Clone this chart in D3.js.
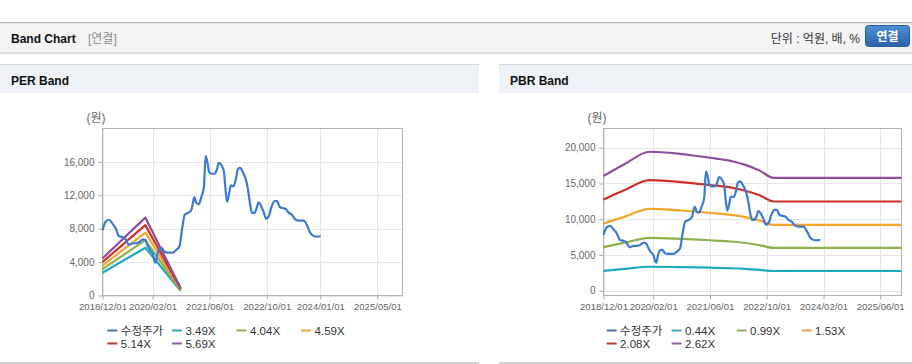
<!DOCTYPE html>
<html>
<head>
<meta charset="utf-8">
<script src="https://cdn.jsdelivr.net/npm/d3@7"></script>
<style>
  body { margin: 0; background: #fff; font-family: Arial, "Liberation Sans", "Noto Sans CJK KR", sans-serif; }
  svg text { font-family: Arial, "Liberation Sans", "Noto Sans CJK KR", sans-serif; }
</style>
</head>
<body>
<script>
var parse = d3.timeParse("%Y/%m/%d");

// 수정주가
var priceDates = ["2018/12/01","2018/12/29","2019/01/27","2019/02/24","2019/03/24","2019/04/21","2019/05/19","2019/06/16",
  "2019/07/14","2019/08/15","2019/09/12","2019/10/10","2019/11/10","2019/12/01","2019/12/22","2020/01/15","2020/02/03",
  "2020/02/18","2020/02/27","2020/03/10","2020/04/01","2020/04/19","2020/05/12","2020/06/10","2020/07/24","2020/08/22",
  "2020/09/18","2020/10/10","2020/11/01","2020/12/01","2020/12/28","2021/01/22","2021/02/08","2021/03/01","2021/03/22",
  "2021/04/13","2021/04/28","2021/05/13","2021/05/28","2021/06/18","2021/07/15","2021/08/01","2021/08/19","2021/09/13",
  "2021/10/01","2021/10/16","2021/10/28","2021/11/15","2021/11/28","2021/12/22","2022/01/10","2022/01/28","2022/02/18",
  "2022/03/10","2022/04/06","2022/04/21","2022/05/13","2022/05/28","2022/06/18","2022/07/10","2022/07/22","2022/08/13",
  "2022/09/07","2022/09/25","2022/10/19","2022/11/10","2022/12/07","2022/12/28","2023/01/19","2023/02/15","2023/03/10",
  "2023/04/07","2023/05/04","2023/06/04","2023/07/01","2023/08/13","2023/09/13","2023/10/10","2023/11/10","2023/12/07",
  "2024/01/04"];
var priceValues = [7800,8880,9070,8600,8040,7100,7000,6730,
  6070,6260,6260,6400,6730,6650,5930,5330,5000,
  4070,3930,4770,5700,5700,5230,5140,5140,5470,
  5930,8040,9670,9900,10280,11780,11070,10930,11780,
  12940,16680,15980,14800,14580,14580,15050,15890,15510,
  14800,12470,11210,12240,13180,13080,13880,15140,15280,
  14800,13880,12940,10840,9900,9900,10600,11170,10750,
  9900,9200,9530,10600,11310,11310,10600,10470,10370,
  9900,9670,9070,8970,8970,8270,7430,7100,7050,
  7100];

// PER band
var perNames = ["3.49X", "4.04X", "4.59X", "5.14X", "5.69X"];
var perDates = ["2018/12/01", "2019/12/01", "2020/09/28"];
var per349 = [2720, 5720, 540];
var per404 = [3150, 6630, 620];
var per459 = [3580, 7530, 700];
var per514 = [4010, 8430, 780];
var per569 = [4440, 9330, 870];

// PBR band
var pbrNames = ["0.44X", "0.99X", "1.53X", "2.08X", "2.62X"];
var pbrDates = ["2018/12/01","2019/06/01","2020/01/01","2020/10/01","2021/06/01","2021/12/01","2022/04/01","2022/08/01","2022/12/01","2025/12/01"];
var pbr044 = [2780, 3060, 3350, 3300, 3220, 3140, 3050, 2920, 2760, 2760];
var pbr099 = [6100, 6720, 7400, 7260, 7060, 6880, 6670, 6360, 6000, 6000];
var pbr153 = [9400, 10360, 11450, 11220, 10900, 10620, 10290, 9820, 9200, 9200];
var pbr208 = [12760, 14080, 15460, 15200, 14780, 14420, 13980, 13340, 12480, 12480];
var pbr262 = [16040, 17720, 19440, 19110, 18600, 18150, 17600, 16800, 15780, 15780];

// axis ticks
var perXTicks = ["2018/12/01","2020/02/01","2021/06/01","2022/10/01","2024/01/01","2025/05/01"];
var pbrXTicks = ["2018/12/01","2020/02/01","2021/06/01","2022/10/01","2024/02/01","2025/06/01"];
var perYTicks = [0, 4000, 8000, 12000, 16000];
var pbrYTicks = [0, 5000, 10000, 15000, 20000];

var lineColors = ["#3b7bd4", "#1ca9c2", "#8cb04c", "#f4a62a", "#d0302b", "#8d4f9d"];
var legendColors = ["#4a72a8", "#3aa6b6", "#92ad5c", "#e0a848", "#b5413c", "#8a5f9c"];

var svg = d3.select("body").append("svg")
  .attr("width", 912)
  .attr("height", 364);

// top bar
svg.append("rect").attr("x", 0).attr("y", 22).attr("width", 912).attr("height", 1.5).attr("fill", "#b4b4b4");
svg.append("rect").attr("x", 0).attr("y", 23.5).attr("width", 912).attr("height", 29).attr("fill", "#f4f4f4");
svg.append("rect").attr("x", 0).attr("y", 52.5).attr("width", 912).attr("height", 1).attr("fill", "#c6c6c6");
svg.append("rect").attr("x", 0).attr("y", 53.5).attr("width", 912).attr("height", 1).attr("fill", "#e6e6e6");

svg.append("text").attr("x", 11).attr("y", 42.5)
  .style("font-size", "12px").style("font-weight", "bold").attr("fill", "#111")
  .text("Band Chart");
svg.append("text").attr("x", 88).attr("y", 42.5)
  .style("font-size", "12px").attr("fill", "#8a8a8a")
  .text("[연결]");
svg.append("text").attr("x", 860).attr("y", 42.5).attr("text-anchor", "end")
  .style("font-size", "12px").attr("fill", "#333")
  .text("단위 : 억원, 배, %");

var grad = svg.append("defs").append("linearGradient")
  .attr("id", "btn").attr("x1", 0).attr("y1", 0).attr("x2", 0).attr("y2", 1);
grad.append("stop").attr("offset", "0%").attr("stop-color", "#4d8fd8");
grad.append("stop").attr("offset", "100%").attr("stop-color", "#2c62a8");

svg.append("rect").attr("x", 865.5).attr("y", 25.5).attr("width", 44).attr("height", 21).attr("rx", 3)
  .attr("fill", "url(#btn)").attr("stroke", "#2a5b9c");
svg.append("text").attr("x", 887.5).attr("y", 40.5).attr("text-anchor", "middle")
  .style("font-size", "12px").style("font-weight", "bold").attr("fill", "#fff")
  .text("연결");

function drawPanel(px, pw, title) {
  svg.append("rect").attr("x", px).attr("y", 64).attr("width", pw).attr("height", 1.5).attr("fill", "#d6d6d6");
  svg.append("rect").attr("x", px).attr("y", 65.5).attr("width", pw).attr("height", 27.5).attr("fill", "#eef2f7");
  svg.append("rect").attr("x", px).attr("y", 362).attr("width", pw).attr("height", 2).attr("fill", "#d2d2d2");
  svg.append("text").attr("x", px + 11).attr("y", 84.5)
    .style("font-size", "12px").style("font-weight", "bold").attr("fill", "#111")
    .text(title);
}

function drawChart(c) {
  var x = d3.scaleTime()
    .domain([parse("2018/12/01"), parse("2025/12/01")])
    .range([c.left, c.right]);
  var y = d3.scaleLinear()
    .domain(c.yDomain)
    .range([c.bottom, c.top]);

  var g = svg.append("g");

  // grid
  g.selectAll(".hgrid").data(c.yTicks).enter().append("line")
    .attr("x1", c.left).attr("x2", c.right)
    .attr("y1", function (d) { return Math.round(y(d)) + 0.5; })
    .attr("y2", function (d) { return Math.round(y(d)) + 0.5; })
    .attr("stroke", "#e6e6e6");
  g.selectAll(".vgrid").data(c.xTicks.map(parse)).enter().append("line")
    .attr("y1", c.top).attr("y2", c.bottom)
    .attr("x1", function (d) { return Math.round(x(d)) + 0.5; })
    .attr("x2", function (d) { return Math.round(x(d)) + 0.5; })
    .attr("stroke", "#e6e6e6");

  g.append("rect")
    .attr("x", c.left).attr("y", c.top)
    .attr("width", c.right - c.left).attr("height", c.bottom - c.top)
    .attr("fill", "none").attr("stroke", "#b3b3b3");

  // axes
  var yAxis = g.append("g")
    .attr("transform", "translate(" + c.left + ",0)")
    .call(d3.axisLeft(y).tickValues(c.yTicks).tickSize(4).tickPadding(4).tickFormat(d3.format(",")));
  var xAxis = g.append("g")
    .attr("transform", "translate(0," + c.bottom + ")")
    .call(d3.axisBottom(x).tickValues(c.xTicks.map(parse)).tickSize(4).tickPadding(4).tickFormat(d3.timeFormat("%Y/%m/%d")));
  [yAxis, xAxis].forEach(function (a) {
    a.select(".domain").remove();
    a.selectAll(".tick line").attr("stroke", "#a8a8a8");
    a.selectAll(".tick text").attr("fill", "#666").style("font-size", "10px")
      .style("font-family", "Arial, 'Liberation Sans', sans-serif");
  });
  xAxis.selectAll(".tick text").style("font-size", "9.6px");

  g.append("text").attr("x", c.left - 16).attr("y", 122)
    .style("font-size", "12px").attr("fill", "#666")
    .text("(원)");

  var line = d3.line()
    .x(function (d) { return x(d[0]); })
    .y(function (d) { return y(d[1]); });

  // bands (PER: straight segments, PBR: smooth)
  var bandLine = d3.line()
    .x(function (d) { return x(d[0]); })
    .y(function (d) { return y(d[1]); })
    .curve(c.smooth ? d3.curveMonotoneX : d3.curveLinear);
  c.bands.forEach(function (b, i) {
    var pts = c.bandDates.map(function (d, j) { return [parse(d), b[j]]; });
    g.append("path")
      .attr("d", bandLine(pts))
      .attr("fill", "none")
      .attr("stroke", lineColors[i + 1])
      .attr("stroke-width", 2.2)
      .attr("stroke-linejoin", "round");
  });

  // price
  var pricePts = priceDates.map(function (d, j) { return [parse(d), priceValues[j]]; });
  g.append("path")
    .attr("d", line.curve(d3.curveMonotoneX)(pricePts))
    .attr("fill", "none")
    .attr("stroke", lineColors[0])
    .attr("stroke-width", 2.2)
    .attr("stroke-linejoin", "round");

  // legend
  var names = ["수정주가"].concat(c.names);
  names.forEach(function (n, i) {
    var lx = c.legendX + (i % 4) * c.legendW;
    var ly = i < 4 ? 330.5 : 343.5;
    g.append("line")
      .attr("x1", lx).attr("x2", lx + 10)
      .attr("y1", ly).attr("y2", ly)
      .attr("stroke", legendColors[i]).attr("stroke-width", 2);
    g.append("text")
      .attr("x", lx + 13.5).attr("y", ly + 4.2)
      .style("font-size", "11.5px").attr("fill", "#333")
      .text(n);
  });
}

drawPanel(0, 479, "PER Band");
drawPanel(499, 413, "PBR Band");

drawChart({
  left: 102.5, right: 402.5, top: 128.5, bottom: 295.5,
  yDomain: [0, 20000], yTicks: perYTicks, xTicks: perXTicks,
  bandDates: perDates, bands: [per349, per404, per459, per514, per569], names: perNames,
  legendX: 107.3, legendW: 64.6, smooth: false
});

drawChart({
  left: 603.5, right: 901.5, top: 128.5, bottom: 295.5,
  yDomain: [-670, 22690], yTicks: pbrYTicks, xTicks: pbrXTicks,
  bandDates: pbrDates, bands: [pbr044, pbr099, pbr153, pbr208, pbr262], names: pbrNames,
  legendX: 606.6, legendW: 65, smooth: true
});
</script>
</body>
</html>
